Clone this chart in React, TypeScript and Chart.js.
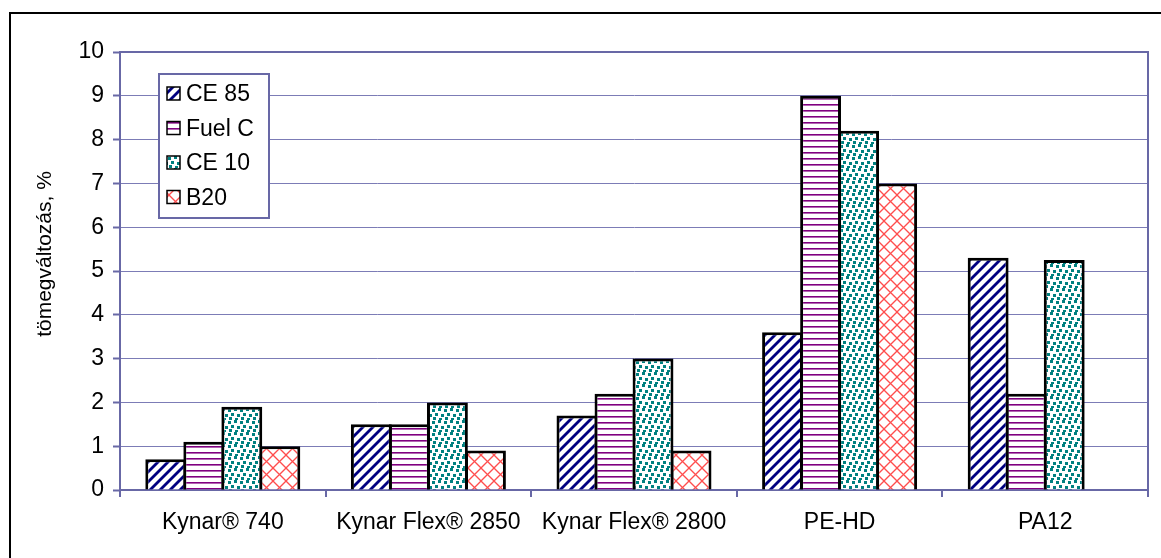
import React, { useEffect, useRef } from 'react';
import { Chart, registerables } from 'chart.js';
Chart.register(...registerables);

const categories = ['Kynar® 740', 'Kynar Flex® 2850', 'Kynar Flex® 2800', 'PE-HD', 'PA12'];
const seriesLabels = ['CE 85', 'Fuel C', 'CE 10', 'B20'];
const ce85 = [0.7, 1.5, 1.7, 3.6, 5.3];
const fuelC = [1.1, 1.5, 2.2, 9.0, 2.2];
const ce10 = [1.9, 2.0, 3.0, 8.2, 5.25];
const b20: (number | null)[] = [1.0, 0.9, 0.9, 7.0, null];
const yTickValues = [0, 1, 2, 3, 4, 5, 6, 7, 8, 9, 10];
const yTitle = 'tömegváltozás, %';

const FONT = '"Liberation Sans", Arial, sans-serif';
const GRID = '#7C7CB6';
const AXIS = '#6868A6';

function makePattern(kind: string): CanvasPattern | string {
  const c = document.createElement('canvas');
  const ctx = c.getContext('2d')!;
  if (kind === 'diag') {
    c.width = 10; c.height = 10;
    ctx.fillStyle = '#fff'; ctx.fillRect(0, 0, 10, 10);
    ctx.strokeStyle = '#000080'; ctx.lineWidth = 2.8;
    for (const o of [-10, 0, 10]) {
      ctx.beginPath(); ctx.moveTo(o - 1, 11); ctx.lineTo(o + 11, -1); ctx.stroke();
    }
  } else if (kind === 'horiz') {
    c.width = 4; c.height = 6;
    ctx.fillStyle = '#fff'; ctx.fillRect(0, 0, 4, 6);
    ctx.fillStyle = '#800080'; ctx.fillRect(0, 2, 4, 1.6);
  } else if (kind === 'dots') {
    c.width = 12; c.height = 12;
    ctx.fillStyle = '#fff'; ctx.fillRect(0, 0, 12, 12);
    ctx.fillStyle = '#008080';
    for (const [x, y] of [[0, 1], [6, 0], [3, 5], [9, 6], [1, 9], [7, 10]]) ctx.fillRect(x, y, 3, 3);
  } else {
    c.width = 13; c.height = 13;
    ctx.fillStyle = '#fff'; ctx.fillRect(0, 0, 13, 13);
    ctx.strokeStyle = '#FF4D4D'; ctx.lineWidth = 1.3;
    ctx.beginPath(); ctx.moveTo(-1, -1); ctx.lineTo(14, 14); ctx.stroke();
    ctx.beginPath(); ctx.moveTo(-1, 14); ctx.lineTo(14, -1); ctx.stroke();
  }
  return ctx.createPattern(c, 'repeat') || '#fff';
}

const framePlugin = {
  id: 'frame',
  beforeDraw(chart: any) {
    const ctx = chart.ctx;
    ctx.save();
    ctx.fillStyle = '#fff';
    ctx.fillRect(0, 0, chart.width, chart.height);
    ctx.strokeStyle = '#000';
    ctx.lineWidth = 2;
    ctx.strokeRect(10, 13, chart.width + 20, chart.height + 20);
    ctx.translate(45, 254);
    ctx.rotate(-Math.PI / 2);
    ctx.fillStyle = '#000';
    ctx.font = `21px ${FONT}`;
    ctx.textAlign = 'center';
    ctx.textBaseline = 'middle';
    ctx.fillText(yTitle, 0, 0);
    ctx.restore();
  },
  beforeDatasetsDraw(chart: any) {
    const { ctx, chartArea } = chart;
    ctx.save();
    ctx.strokeStyle = AXIS;
    ctx.lineWidth = 2;
    ctx.beginPath();
    ctx.moveTo(chartArea.left, chartArea.top);
    ctx.lineTo(chartArea.right, chartArea.top);
    ctx.lineTo(chartArea.right, chartArea.bottom + 7);
    ctx.stroke();
    ctx.restore();
  },
};

const legendPlugin = {
  id: 'boxLegend',
  afterDraw(chart: any) {
    const ctx = chart.ctx;
    ctx.save();
    const bx = 159, by = 74, bw = 110, bh = 144;
    ctx.fillStyle = '#fff';
    ctx.fillRect(bx, by, bw, bh);
    ctx.strokeStyle = AXIS;
    ctx.lineWidth = 2;
    ctx.strokeRect(bx, by, bw, bh);
    chart.data.datasets.forEach((ds: any, i: number) => {
      const cy = 94 + 34.5 * i;
      ctx.fillStyle = ds.backgroundColor;
      ctx.fillRect(167, cy - 7, 13, 13);
      ctx.strokeStyle = '#000';
      ctx.lineWidth = 1.5;
      ctx.strokeRect(167, cy - 7, 13, 13);
      ctx.fillStyle = '#000';
      ctx.font = `23px ${FONT}`;
      ctx.textBaseline = 'middle';
      ctx.textAlign = 'left';
      ctx.fillText(ds.label, 186, cy + 1);
    });
    ctx.restore();
  },
};

export default function App() {
  const ref = useRef<HTMLCanvasElement>(null);
  useEffect(() => {
    const fills = [makePattern('diag'), makePattern('horiz'), makePattern('dots'), makePattern('diamond')];
    const values = [ce85, fuelC, ce10, b20];
    const chart = new Chart(ref.current!, {
      type: 'bar',
      data: {
        labels: categories,
        datasets: seriesLabels.map((label, i) => ({
          label,
          data: values[i],
          backgroundColor: fills[i] as any,
          borderColor: '#000',
          borderWidth: 3,
          categoryPercentage: 0.74,
          barPercentage: 1.075,
        })),
      },
      options: {
        responsive: false,
        animation: false,
        layout: { padding: { left: 0, top: 52, right: 13, bottom: 0 } },
        plugins: { legend: { display: false }, tooltip: { enabled: false } },
        scales: {
          x: {
            afterFit: (s: any) => { s.height = 68; },
            grid: { offset: true, drawOnChartArea: false, tickLength: 7, color: AXIS, lineWidth: 2 },
            border: { color: AXIS, width: 2 },
            ticks: { color: '#000', font: { family: FONT, size: 23 }, padding: 12, maxRotation: 0, autoSkip: false },
          },
          y: {
            min: 0,
            max: 10,
            afterFit: (s: any) => { s.width = 120; },
            afterBuildTicks: (s: any) => { s.ticks = yTickValues.map((v) => ({ value: v })); },
            grid: { color: GRID, lineWidth: 1, tickLength: 7, tickColor: AXIS, tickWidth: 2 },
            border: { color: AXIS, width: 2 },
            ticks: { color: '#000', font: { family: FONT, size: 23 }, padding: 9 },
            title: { display: false },
          },
        },
      },
      plugins: [framePlugin, legendPlugin],
    });
    return () => chart.destroy();
  }, []);
  return (
    <div style={{ position: 'fixed', left: 0, top: 0, width: 1161, height: 558 }}>
      <canvas ref={ref} width={1161} height={558} style={{ display: 'block' }} />
    </div>
  );
}
